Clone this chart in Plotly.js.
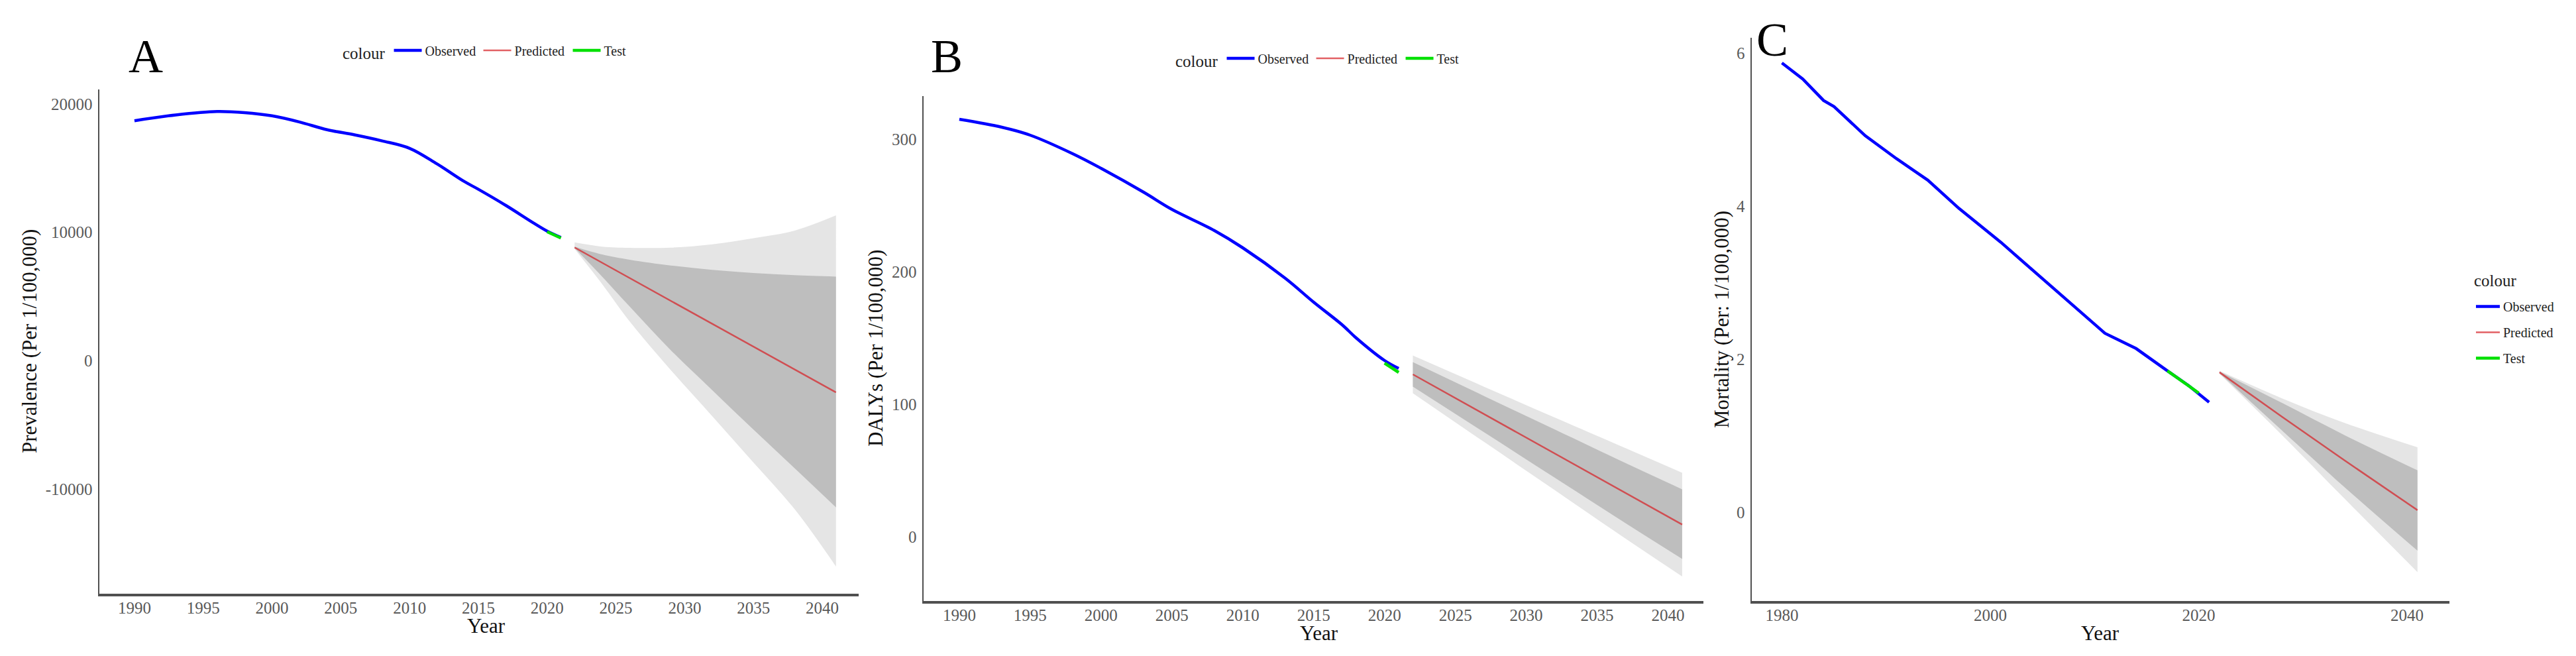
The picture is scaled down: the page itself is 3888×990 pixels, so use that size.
<!DOCTYPE html>
<html><head><meta charset="utf-8">
<script src="https://cdn.plot.ly/plotly-3.0.1.min.js"></script>
<style>html,body{margin:0;padding:0;background:#fff;}#chart{width:3888px;height:990px;}</style>
</head><body><div id="chart"></div>
<script>
// ---------- Panel A : Prevalence ----------
const yearsObsA = [1990,1993,1996,1998,2000,2002,2004,2006,2008,2010,2012,2014,2015,2017,2019,2020,2021];
const obsA = [18700,19150,19420,19330,19080,18600,18000,17600,17130,16550,15330,13950,13360,12100,10740,10100,9600];
const yearsTestA = [2020,2021];
const testA = [10050,9560];
const yearsPredA = [2022,2024,2026,2029,2032,2035,2038,2041];
const predA = [8820,7630,6440,4660,2880,1100,-690,-2470];
const hi95A = [9220,8890,8800,8810,9070,9550,10140,11320];
const hi80A = [8890,8280,7870,7420,7080,6830,6660,6550];
const lo80A = [8780,6550,4220,810,-2290,-5370,-8390,-11430];
const lo95A = [8700,5970,3060,-740,-4320,-7930,-11580,-16040];

// ---------- Panel B : DALYs ----------
const yearsObsB = [1990,1993,1995,1998,2000,2003,2005,2008,2010,2013,2015,2017,2018,2020,2021];
const obsB = [315,309,303,289,278,260,247,231,218,195,177,160,150,133,127];
const yearsTestB = [2020,2021];
const testB = [131,124];
const yearsPredB = [2022,2027,2032,2037,2041];
const predB = [122.5,92.6,62.6,32.9,9.2];
const hi95B = [136.7,113.3,90.0,66.9,48.3];
const hi80B = [131.7,106.3,81.0,55.6,35.8];
const lo80B = [113.3,79.0,44.6,10.3,-16.7];
const lo95B = [108.3,71.7,35.2,-1.4,-30.0];

// ---------- Panel C : Mortality ----------
const yearsObsC = [1980,1982,1984,1985,1988,1991,1994,1997,2001,2005,2010,2011,2014,2017,2019,2021];
const obsC = [5.87,5.66,5.38,5.30,4.92,4.62,4.34,3.97,3.53,3.06,2.46,2.34,2.14,1.85,1.66,1.44];
const yearsTestC = [2017,2018,2019,2020];
const testC = [1.85,1.75,1.66,1.56];
const yearsPredC = [2022,2028,2034,2041];
const predC = [1.83,1.25,0.68,0.03];
const hi95C = [1.85,1.49,1.17,0.85];
const hi80C = [1.84,1.43,1.01,0.55];
const lo80C = [1.82,1.07,0.33,-0.50];
const lo95C = [1.81,1.01,0.18,-0.78];

// ---------- Ticks ----------
const xTicksAB = [1990,1995,2000,2005,2010,2015,2020,2025,2030,2035,2040];
const xTicksC = [1980,2000,2020,2040];
const yTicksA = [-10000,0,10000,20000];
const yTickTextA = ['-10000','0','10000','20000'];
const yTicksB = [0,100,200,300];
const yTicksC = [0,2,4,6];

const seriesNames = ['Observed','Predicted','Test'];
const legendTitle = 'colour';
const panelLetters = ['A','B','C'];
const yTitles = ['Prevalence (Per 1/100,000)','DALYs (Per 1/100,000)','Mortality (Per: 1/100,000)'];

// ---------- styling ----------
const W = 3888, H = 990;
const FONT = 'Liberation Serif, Times New Roman, serif';
const C_OBS = '#0000FF', C_PRED = 'rgba(215,35,40,0.72)', C_TEST = '#00E000';
const C_LIGHT = 'rgb(229,229,229)', C_DARK = 'rgb(190,190,190)';

function band(years, lo, hi, color, xa, ya) {
  return [
    {x: years, y: lo, mode: 'lines', line: {width: 0, shape: 'spline'}, xaxis: xa, yaxis: ya,
     showlegend: false, hoverinfo: 'skip'},
    {x: years, y: hi, mode: 'lines', line: {width: 0, shape: 'spline'}, fill: 'tonexty', fillcolor: color,
     xaxis: xa, yaxis: ya, showlegend: false, hoverinfo: 'skip'}
  ];
}
function panel(p, xa, ya, leg, shapeObs) {
  return [
    ...band(p.yp, p.lo95, p.hi95, C_LIGHT, xa, ya),
    ...band(p.yp, p.lo80, p.hi80, C_DARK, xa, ya),
    {x: p.yo, y: p.obs, mode: 'lines', name: seriesNames[0], line: {color: C_OBS, width: 4.5, shape: shapeObs},
     xaxis: xa, yaxis: ya, legend: leg, legendgroup: leg + 'o', legendrank: 1},
    {x: p.yp, y: p.pred, mode: 'lines', name: seriesNames[1], line: {color: C_PRED, width: 2.5},
     xaxis: xa, yaxis: ya, legend: leg, legendgroup: leg + 'p', legendrank: 2},
    {x: p.yt, y: p.test, mode: 'lines', name: seriesNames[2], line: {color: C_TEST, width: 4.5, shape: shapeObs},
     xaxis: xa, yaxis: ya, legend: leg, legendgroup: leg + 't', legendrank: 3}
  ];
}

const data = [
  ...panel({yo: yearsObsA, obs: obsA, yt: yearsTestA, test: testA, yp: yearsPredA, pred: predA,
            hi95: hi95A, hi80: hi80A, lo80: lo80A, lo95: lo95A}, 'x', 'y', 'legend', 'spline'),
  ...panel({yo: yearsObsB, obs: obsB, yt: yearsTestB, test: testB, yp: yearsPredB, pred: predB,
            hi95: hi95B, hi80: hi80B, lo80: lo80B, lo95: lo95B}, 'x2', 'y2', 'legend2', 'spline'),
  ...panel({yo: yearsObsC, obs: obsC, yt: yearsTestC, test: testC, yp: yearsPredC, pred: predC,
            hi95: hi95C, hi80: hi80C, lo80: lo80C, lo95: lo95C}, 'x3', 'y3', 'legend3', 'linear')
];

const tickFont = {family: FONT, size: 25, color: '#595959'};
function xAxis(domain, range, ticks, anchor) {
  return {domain: domain, range: range, tickvals: ticks, ticktext: ticks.map(String), anchor: anchor,
          showgrid: false, zeroline: false, showline: true, linecolor: '#505050', linewidth: 4,
          ticks: '', ticklabelstandoff: -4, tickfont: tickFont, fixedrange: true};
}
function yAxis(domain, range, ticks, text, anchor) {
  return {domain: domain, range: range, tickvals: ticks, ticktext: text, anchor: anchor,
          showgrid: false, zeroline: false, showline: true, linecolor: '#505050', linewidth: 2.5,
          ticks: '', ticklabelstandoff: 3, tickfont: tickFont, fixedrange: true};
}
const px = v => v / W, py = v => 1 - v / H;

const legendCommon = {bgcolor: 'rgba(0,0,0,0)', font: {family: FONT, size: 20, color: '#222'},
                      itemclick: false, itemdoubleclick: false};
const legTitle = side => ({text: legendTitle, side: side, font: {family: FONT, size: 25, color: '#222'}});

const annotations = [];
[[220, 85], [1429, 85], [2675, 60]].forEach((c, i) => annotations.push({
  text: panelLetters[i], x: px(c[0]), y: py(c[1]), xref: 'paper', yref: 'paper', showarrow: false,
  xanchor: 'center', yanchor: 'middle', font: {family: FONT, size: 72, color: '#000'}}));
[[44, 515], [1321, 526], [2598, 482]].forEach((c, i) => annotations.push({
  text: yTitles[i], x: px(c[0]), y: py(c[1]), xref: 'paper', yref: 'paper', showarrow: false, textangle: -90,
  xanchor: 'center', yanchor: 'middle', font: {family: FONT, size: 31, color: '#111'}}));
[[734, 944], [1991, 955], [3170, 955]].forEach(c => annotations.push({
  text: 'Year', x: px(c[0]), y: py(c[1]), xref: 'paper', yref: 'paper', showarrow: false,
  xanchor: 'center', yanchor: 'middle', font: {family: FONT, size: 31, color: '#111'}}));
// title of the vertical legend in panel C
annotations.push({text: legendTitle, x: px(3732), y: py(423), xref: 'paper', yref: 'paper', showarrow: false,
  xanchor: 'left', yanchor: 'middle', font: {family: FONT, size: 25, color: '#222'}});

const layout = {
  width: W, height: H, margin: {l: 0, r: 0, t: 0, b: 0, pad: 0},
  paper_bgcolor: '#fff', plot_bgcolor: '#fff', showlegend: true, hovermode: false,
  xaxis:  xAxis([px(150), px(1296)], [1987.45, 2042.65], xTicksAB, 'y'),
  yaxis:  yAxis([1 - 896 / H, 1 - 135 / H], [-18158, 21136], yTicksA, yTickTextA, 'x'),
  xaxis2: xAxis([px(1394), px(2571)], [1987.48, 2042.5], xTicksAB, 'y2'),
  yaxis2: yAxis([1 - 906.7 / H, 1 - 145 / H], [-48.35, 332.5], yTicksB, yTicksB.map(String), 'x2'),
  xaxis3: xAxis([px(2644), px(3697)], [1977.11, 2044.07], xTicksC, 'y3'),
  yaxis3: yAxis([1 - 906.7 / H, 1 - 57 / H], [-1.154, 6.199], yTicksC, yTicksC.map(String), 'x3'),
  legend:  Object.assign({}, legendCommon, {orientation: 'h', x: px(515), xanchor: 'left', y: py(78), yanchor: 'middle',
            title: legTitle('left'), itemwidth: 42, entrywidth: 78, entrywidthmode: 'pixels'}),
  legend2: Object.assign({}, legendCommon, {orientation: 'h', x: px(1772), xanchor: 'left', y: py(90), yanchor: 'middle',
            title: legTitle('left'), itemwidth: 42, entrywidth: 78, entrywidthmode: 'pixels'}),
  legend3: Object.assign({}, legendCommon, {orientation: 'v', x: px(3732), xanchor: 'left', y: py(443), yanchor: 'top',
            itemwidth: 36, traceorder: 'grouped', tracegroupgap: 10}),
  annotations: annotations
};

Plotly.newPlot('chart', data, layout, {staticPlot: true, displayModeBar: false});
</script></body></html>
